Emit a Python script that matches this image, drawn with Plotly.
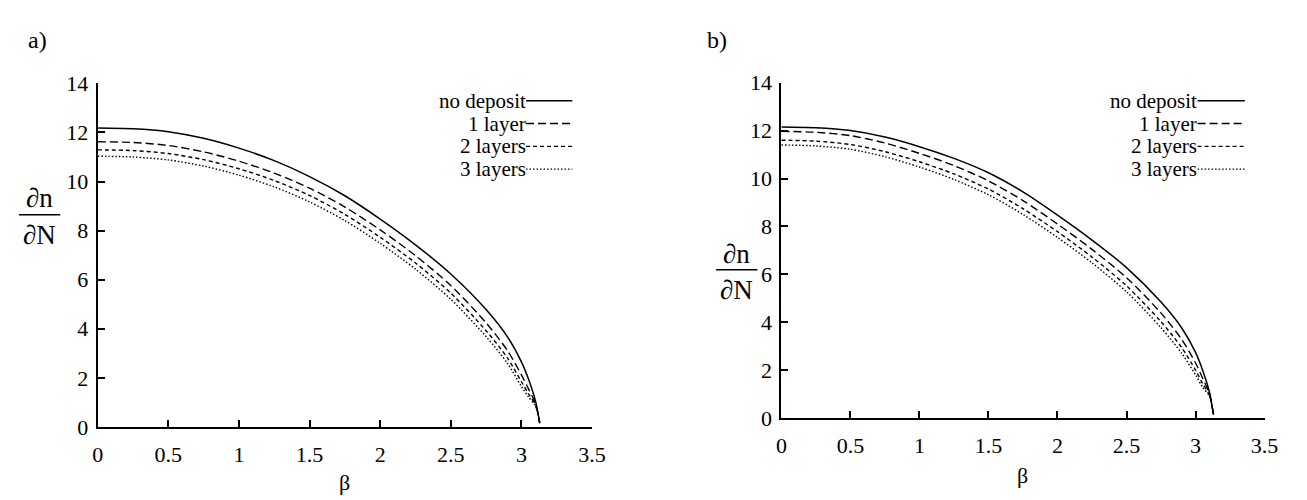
import plotly.graph_objects as go

W, H = 1307, 500

# ---- data ----
beta = [0, 0.25, 0.5, 0.75, 1.0, 1.25, 1.5, 1.75, 2.0, 2.25, 2.5, 2.75, 2.9, 3.0, 3.05, 3.1, 3.13]

a_no_deposit = [12.18, 12.15, 12.03, 11.76, 11.36, 10.85, 10.20, 9.42, 8.47, 7.42, 6.23, 4.78, 3.68, 2.65, 1.95, 1.05, 0.15]
a_1_layer    = [11.62, 11.59, 11.47, 11.21, 10.83, 10.34, 9.73, 8.96, 8.03, 6.98, 5.76, 4.24, 3.12, 2.12, 1.55, 0.95, 0.15]
a_2_layers   = [11.29, 11.26, 11.14, 10.89, 10.52, 10.04, 9.43, 8.66, 7.73, 6.68, 5.45, 3.92, 2.82, 1.84, 1.35, 0.90, 0.15]
a_3_layers   = [11.03, 11.00, 10.88, 10.63, 10.26, 9.78, 9.17, 8.41, 7.48, 6.43, 5.20, 3.68, 2.60, 1.65, 1.22, 0.85, 0.15]

b_no_deposit = [12.15, 12.12, 12.00, 11.73, 11.33, 10.84, 10.24, 9.44, 8.47, 7.43, 6.28, 4.84, 3.76, 2.74, 2.02, 1.10, 0.15]
b_1_layer    = [11.97, 11.93, 11.79, 11.48, 11.05, 10.54, 9.90, 9.08, 8.10, 7.04, 5.86, 4.38, 3.28, 2.30, 1.68, 1.02, 0.15]
b_2_layers   = [11.60, 11.56, 11.42, 11.12, 10.70, 10.19, 9.56, 8.74, 7.78, 6.72, 5.52, 4.02, 2.94, 2.00, 1.45, 0.96, 0.15]
b_3_layers   = [11.40, 11.36, 11.22, 10.91, 10.48, 9.96, 9.32, 8.50, 7.54, 6.48, 5.27, 3.77, 2.70, 1.80, 1.30, 0.92, 0.15]

series_names = ["no deposit", "1 layer", "2 layers", "3 layers"]
x_ticks = [0, 0.5, 1, 1.5, 2, 2.5, 3, 3.5]
x_tick_text = ["0", "0.5", "1", "1.5", "2", "2.5", "3", "3.5"]
y_ticks = [0, 2, 4, 6, 8, 10, 12, 14]
y_tick_text = ["0", "2", "4", "6", "8", "10", "12", "14"]
panel_labels = ["a)", "b)"]

# ---- styling ----
FONT = "Times New Roman, Liberation Serif, Nimbus Roman, DejaVu Serif, serif"
dashes = ["solid", "8px,4px", "4px,3px", "1.5px,2px"]
widths = [1.5, 1.4, 1.4, 1.4]

def px(x):
    return x / W

def py(y):
    return 1 - y / H

fig = go.Figure()

panels = [
    dict(data=[a_no_deposit, a_1_layer, a_2_layers, a_3_layers], xa="x", ya="y"),
    dict(data=[b_no_deposit, b_1_layer, b_2_layers, b_3_layers], xa="x2", ya="y2"),
]

for p in panels:
    for vals, dash, w, name in zip(p["data"], dashes, widths, series_names):
        fig.add_trace(go.Scatter(
            x=beta, y=vals, mode="lines", name=name, showlegend=False,
            line=dict(color="black", width=w, dash=dash, shape="spline", smoothing=0.8),
            xaxis=p["xa"], yaxis=p["ya"],
        ))

axis_common = dict(
    showgrid=False, zeroline=False, showline=True, linecolor="black", linewidth=2,
    ticks="inside", ticklen=7, tickwidth=1.5, tickcolor="black", mirror=False,
    tickfont=dict(family=FONT, size=22, color="black"),
)

fig.update_layout(
    width=W, height=H, paper_bgcolor="white", plot_bgcolor="white",
    font=dict(family=FONT, color="black"),
    margin=dict(l=0, r=0, t=0, b=0), showlegend=False,
    xaxis=dict(domain=[px(85), px(587)], range=[0, 3.5], tickvals=x_ticks, ticktext=x_tick_text,
               anchor="y", ticklabelstandoff=7, **axis_common),
    yaxis=dict(domain=[py(428.3), py(66.7)], range=[0, 14], tickvals=y_ticks, ticktext=y_tick_text,
               anchor="x", ticklabelstandoff=3, **axis_common),
    xaxis2=dict(domain=[px(779.3), px(1270)], range=[0, 3.5], tickvals=x_ticks, ticktext=x_tick_text,
                anchor="y2", ticklabelstandoff=7, **axis_common),
    yaxis2=dict(domain=[py(419), py(66)], range=[0, 14], tickvals=y_ticks, ticktext=y_tick_text,
                anchor="x2", ticklabelstandoff=3, **axis_common),
)

annotations = []
shapes = []

def text(x, y, s, size=21, xanchor="center"):
    annotations.append(dict(x=px(x), y=py(y), xref="paper", yref="paper", text=s, showarrow=False,
                            xanchor=xanchor, yanchor="middle",
                            font=dict(family=FONT, size=size, color="black")))

# panel labels
text(24, 21, panel_labels[0], size=24)
text(714, 21, panel_labels[1], size=24)

# x-axis titles
text((85 + 587) / 2, 487, "β", size=22)
text((779.3 + 1270) / 2, 479, "β", size=22)

# y-axis titles as fractions
for cx, ytop_txt, yline, ybot_txt in [(26, 187, 205, 226), (734, 246, 263, 284)]:
    text(cx, ytop_txt, "∂n", size=27)
    text(cx, ybot_txt, "∂N", size=27)
    shapes.append(dict(type="line", xref="paper", yref="paper",
                       x0=px(cx - 21), x1=px(cx + 21), y0=py(yline), y1=py(yline),
                       line=dict(color="black", width=1.5)))

# legends
rows_a = [85, 109, 133, 157]
rows_b = [85, 109, 133, 157]
for (tx, l0, l1, rows) in [(522, 520, 567, rows_a), (1203, 1202, 1250, rows_b)]:
    for name, dash, w, ry in zip(series_names, dashes, widths, rows):
        text(tx, ry, name, size=21, xanchor="right")
        shapes.append(dict(type="line", xref="paper", yref="paper",
                           x0=px(l0), x1=px(l1), y0=py(ry), y1=py(ry),
                           line=dict(color="black", width=w, dash=dash)))

fig.update_layout(annotations=annotations, shapes=shapes)
fig.write_html("out.html")
